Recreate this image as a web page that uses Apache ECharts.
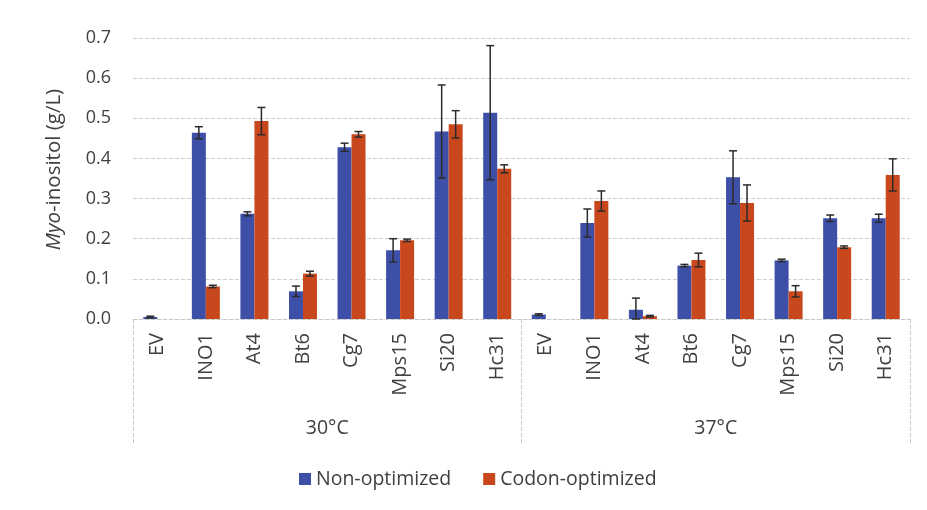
<!DOCTYPE html>
<html>
<head>
<meta charset="utf-8">
<script src="https://cdn.jsdelivr.net/npm/echarts@6/dist/echarts.min.js"></script>
<style>
  html, body { margin: 0; padding: 0; background: #fff; }
  #chart { width: 927px; height: 510px; }
</style>
</head>
<body>
<div id="chart"></div>
<script>
// Strains tested at each temperature
const strains = ['EV', 'INO1', 'At4', 'Bt6', 'Cg7', 'Mps15', 'Si20', 'Hc31'];
const temperatures = ['30°C', '37°C'];
const categories = temperatures.flatMap(() => strains);

// Myo-inositol titre (g/L), 30°C block then 37°C block
const nonOptimized = [0.005, 0.464, 0.262, 0.069, 0.428, 0.171, 0.467, 0.514,
                      0.011, 0.239, 0.023, 0.133, 0.353, 0.146, 0.251, 0.251];
const codonOptimized = [0, 0.081, 0.493, 0.113, 0.460, 0.196, 0.485, 0.374,
                        0, 0.294, 0.007, 0.147, 0.289, 0.069, 0.179, 0.359];
// Standard deviations
const nonOptimizedSd = [0.002, 0.015, 0.005, 0.013, 0.010, 0.029, 0.116, 0.167,
                        0.002, 0.035, 0.029, 0.003, 0.066, 0.003, 0.008, 0.010];
const codonOptimizedSd = [0, 0.003, 0.034, 0.006, 0.007, 0.003, 0.034, 0.010,
                          0, 0.025, 0.002, 0.017, 0.045, 0.014, 0.003, 0.040];

const BLUE = '#3D4FA6';
const ORANGE = '#C9471C';
const BAR_W = 14;
const FONT = '"Open Sans", Lato, sans-serif';
const TEXT = '#404040';

function errorSeries(values, sds, offset) {
  return {
    type: 'custom',
    xAxisIndex: 0,
    z: 10,
    data: values.map((v, i) => [i, v, sds[i]]),
    renderItem(params, api) {
      const i = api.value(0), v = api.value(1), sd = api.value(2);
      if (!sd) return null;
      const top = api.coord([i, v + sd]);
      const bot = api.coord([i, Math.max(0, v - sd)]);
      const x = top[0] + offset;
      const cap = 4;
      const style = { stroke: '#2b2b2b', lineWidth: 1.5 };
      return {
        type: 'group',
        children: [
          { type: 'line', shape: { x1: x, y1: top[1], x2: x, y2: bot[1] }, style },
          { type: 'line', shape: { x1: x - cap, y1: top[1], x2: x + cap, y2: top[1] }, style },
          { type: 'line', shape: { x1: x - cap, y1: bot[1], x2: x + cap, y2: bot[1] }, style }
        ]
      };
    }
  };
}

const chart = echarts.init(document.getElementById('chart'), null, { renderer: 'canvas' });
chart.setOption({
  animation: false,
  textStyle: { fontFamily: FONT },
  grid: { left: 133, right: 17, top: 38, bottom: 191 },
  legend: {
    top: 464,
    left: 294,
    itemWidth: 12,
    itemHeight: 12,
    itemGap: 32,
    icon: 'rect',
    textStyle: { fontSize: 19.5, color: TEXT, fontFamily: FONT },
    data: ['Non-optimized', 'Codon-optimized']
  },
  xAxis: [
    {
      type: 'category',
      data: categories,
      axisLine: { show: true, lineStyle: { color: '#c8c8c8', type: 'dashed', width: 1 } },
      axisTick: { show: false },
      axisLabel: { rotate: 90, margin: 14, fontSize: 20, color: TEXT, fontFamily: FONT }
    },
    {
      type: 'category',
      position: 'bottom',
      data: temperatures,
      axisLine: { show: false },
      axisTick: { show: true, length: 125, lineStyle: { color: '#c8c8c8', type: 'dashed', width: 1 } },
      axisLabel: { margin: 99, fontSize: 19.5, color: TEXT, fontFamily: FONT },
      splitLine: { show: false }
    }
  ],
  yAxis: {
    type: 'value',
    min: 0,
    max: 0.7,
    interval: 0.1,
    axisLine: { show: false },
    axisTick: { show: false },
    axisLabel: {
      margin: 22,
      fontSize: 18,
      color: TEXT,
      fontFamily: FONT,
      formatter: v => v.toFixed(1)
    },
    splitLine: { lineStyle: { color: '#cfcfcf', type: 'dashed', width: 1 } },
    name: '{i|Myo}-inositol (g/L)',
    nameLocation: 'middle',
    nameRotate: 90,
    nameGap: 68,
    nameTextStyle: {
      fontSize: 20.5,
      color: TEXT,
      fontFamily: FONT,
      padding: [0, 0, 0, 18],
      rich: {
        i: { fontStyle: 'italic', fontSize: 20.5, color: TEXT, fontFamily: FONT }
      }
    }
  },
  series: [
    {
      name: 'Non-optimized',
      type: 'bar',
      data: nonOptimized,
      barWidth: BAR_W,
      barGap: '0%',
      itemStyle: { color: BLUE }
    },
    {
      name: 'Codon-optimized',
      type: 'bar',
      data: codonOptimized,
      barWidth: BAR_W,
      barGap: '0%',
      itemStyle: { color: ORANGE }
    },
    errorSeries(nonOptimized, nonOptimizedSd, -BAR_W / 2),
    errorSeries(codonOptimized, codonOptimizedSd, BAR_W / 2)
  ]
});
</script>
</body>
</html>
